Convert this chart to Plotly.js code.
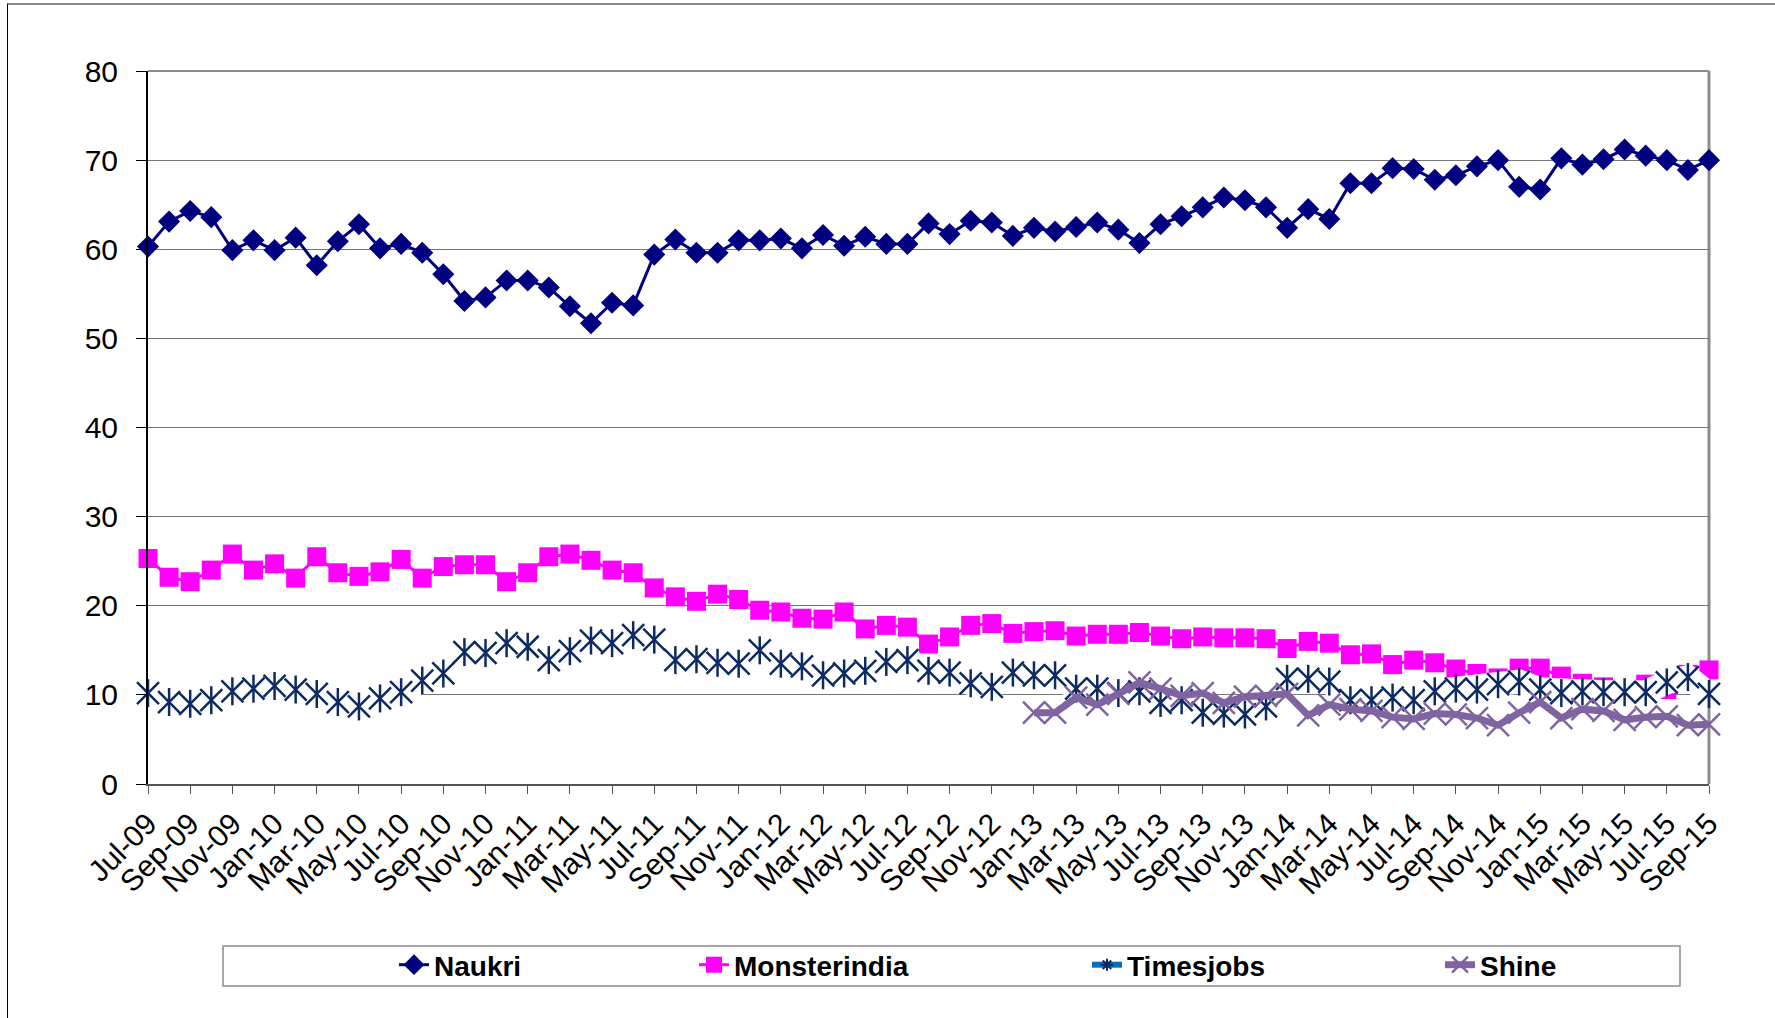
<!DOCTYPE html>
<html>
<head>
<meta charset="utf-8">
<script src="https://cdn.plot.ly/plotly-3.0.1.min.js"></script>
<style>
  html, body { margin: 0; padding: 0; background: #fff; width: 1775px; height: 1018px; overflow: hidden; }
  #frame { position: absolute; left: 7px; top: 3px; width: 2000px; height: 2000px;
           border-left: 1px solid #000; border-top: 2px solid #8a8a8a; }
  #chart { position: absolute; left: 0; top: 0; width: 1775px; height: 1018px; }
</style>
</head>
<body>
<div id="frame"></div>
<div id="chart"></div>
<script>
const months = [
  'Jul-09','Aug-09','Sep-09','Oct-09','Nov-09','Dec-09',
  'Jan-10','Feb-10','Mar-10','Apr-10','May-10','Jun-10','Jul-10','Aug-10','Sep-10','Oct-10','Nov-10','Dec-10',
  'Jan-11','Feb-11','Mar-11','Apr-11','May-11','Jun-11','Jul-11','Aug-11','Sep-11','Oct-11','Nov-11','Dec-11',
  'Jan-12','Feb-12','Mar-12','Apr-12','May-12','Jun-12','Jul-12','Aug-12','Sep-12','Oct-12','Nov-12','Dec-12',
  'Jan-13','Feb-13','Mar-13','Apr-13','May-13','Jun-13','Jul-13','Aug-13','Sep-13','Oct-13','Nov-13','Dec-13',
  'Jan-14','Feb-14','Mar-14','Apr-14','May-14','Jun-14','Jul-14','Aug-14','Sep-14','Oct-14','Nov-14','Dec-14',
  'Jan-15','Feb-15','Mar-15','Apr-15','May-15','Jun-15','Jul-15','Aug-15','Sep-15'
];

const naukri = [
  60.3,63.1,64.3,63.6,59.9,61.0,59.9,61.3,58.2,60.9,
  62.8,60.1,60.6,59.6,57.2,54.2,54.6,56.5,56.5,55.7,
  53.6,51.7,54.0,53.7,59.4,61.1,59.6,59.6,61.0,61.0,
  61.2,60.1,61.6,60.4,61.4,60.6,60.6,62.9,61.7,63.2,
  63.0,61.5,62.4,62.0,62.5,63.0,62.2,60.7,62.8,63.7,
  64.7,65.8,65.5,64.7,62.4,64.5,63.4,67.4,67.4,69.1,
  69.0,67.8,68.3,69.3,70.0,67.0,66.7,70.2,69.5,70.1,
  71.2,70.5,70.0,68.9,70.0
];

const monsterindia = [
  25.3,23.2,22.7,24.0,25.8,24.0,24.7,23.1,25.5,23.7,
  23.3,23.8,25.2,23.1,24.4,24.6,24.6,22.7,23.7,25.5,
  25.8,25.1,24.0,23.7,22.0,21.0,20.5,21.3,20.7,19.5,
  19.3,18.6,18.5,19.3,17.4,17.8,17.6,15.7,16.5,17.8,
  18.0,16.9,17.1,17.2,16.6,16.8,16.8,17.0,16.6,16.3,
  16.5,16.4,16.4,16.3,15.2,16.0,15.8,14.5,14.6,13.4,
  13.9,13.6,12.9,12.4,11.9,13.0,13.0,12.1,11.3,10.9,
  10.5,11.2,10.6,12.3,12.8
];

const timesjobs = [
  10.2,9.2,9.0,9.4,10.4,10.7,11.0,10.6,10.1,9.2,
  8.7,9.6,10.3,11.6,12.4,14.8,14.7,15.8,15.4,13.9,
  14.9,16.1,15.8,16.7,16.2,13.9,14.0,13.6,13.5,15.0,
  13.5,13.2,12.2,12.4,12.7,13.7,13.9,12.7,12.5,11.3,
  10.9,12.5,12.2,12.2,10.7,10.7,10.2,10.4,9.1,9.4,
  8.0,7.9,7.8,8.7,11.8,11.8,11.5,9.4,9.4,9.7,
  9.4,10.4,10.7,10.6,11.2,11.5,10.6,10.2,10.4,10.3,
  10.3,10.3,11.4,12.0,10.1
];

const shineStart = 'Jan-13';
const shine = [
  8.0,8.0,9.7,8.9,10.1,11.4,10.7,9.9,
  10.2,9.1,9.8,9.9,10.1,7.7,8.9,8.4,8.2,7.5,
  7.3,7.9,7.8,7.4,6.6,8.0,9.2,7.4,8.4,8.2,
  7.2,7.5,7.6,6.6,6.7
];
const shineMonths = months.slice(months.indexOf(shineStart));

const yTicks = [0,10,20,30,40,50,60,70,80];
const xTicks = months.filter((m, i) => i % 2 === 0);

const NAVY = '#000080';
const MAGENTA = '#FF00FF';
const TJ_MARK = '#0d2a63';
const TJ_LEG = '#0070C0';
const PURPLE = '#8064A2';
const FONT = 'Liberation Sans, Arial, Helvetica, sans-serif';

const traces = [
  {
    x: months, y: naukri, name: 'Naukri', type: 'scatter', mode: 'lines+markers',
    line: {color: NAVY, width: 3},
    marker: {symbol: 'diamond', size: 17, color: NAVY},
    cliponaxis: false, legend: 'legend'
  },
  {
    x: months, y: monsterindia, name: 'Monsterindia', type: 'scatter', mode: 'lines+markers',
    line: {color: MAGENTA, width: 3},
    marker: {symbol: 'square', size: 19, color: MAGENTA},
    cliponaxis: false, legend: 'legend2'
  },
  {
    x: months, y: timesjobs, name: 'Timesjobs', type: 'scatter', mode: 'lines+markers',
    line: {color: '#ffffff', width: 24},
    marker: {symbol: 'x-thin-open', size: 22, color: TJ_MARK, line: {color: TJ_MARK, width: 2.5}},
    cliponaxis: false, showlegend: false
  },
  {
    x: months, y: timesjobs, name: 'Timesjobs', type: 'scatter', mode: 'markers',
    marker: {symbol: 'line-ns-open', size: 20, color: TJ_MARK, line: {color: TJ_MARK, width: 2.5}},
    cliponaxis: false, showlegend: false
  },
  {
    x: [null], y: [null], name: 'Timesjobs', type: 'scatter', mode: 'lines+markers',
    line: {color: TJ_LEG, width: 6},
    marker: {symbol: 'asterisk-open', size: 10, color: TJ_MARK, line: {color: TJ_MARK, width: 2}},
    legend: 'legend3'
  },
  {
    x: shineMonths, y: shine, name: 'Shine', type: 'scatter', mode: 'lines+markers',
    line: {color: PURPLE, width: 7},
    marker: {symbol: 'x-thin-open', size: 22, color: PURPLE, line: {color: PURPLE, width: 2.5}},
    cliponaxis: false, legend: 'legend4'
  }
];

function leg(px) {
  return {
    xref: 'container', yref: 'container',
    x: px / 1775, y: 1 - 965 / 1018, xanchor: 'left', yanchor: 'middle',
    orientation: 'h', bgcolor: 'rgba(0,0,0,0)', borderwidth: 0,
    font: {family: FONT, size: 28, color: '#000', weight: 'bold'}
  };
}

const layout = {
  width: 1775, height: 1018,
  margin: {l: 148, r: 66, t: 71, b: 234, pad: 0},
  paper_bgcolor: 'rgba(0,0,0,0)',
  plot_bgcolor: '#ffffff',
  font: {family: FONT, color: '#000'},
  showlegend: true,
  legend: leg(394),
  legend2: leg(694),
  legend3: leg(1087),
  legend4: leg(1440),
  xaxis: {
    type: 'category', categoryorder: 'array', categoryarray: months,
    range: [0, months.length - 1],
    tickmode: 'array', tickvals: xTicks, ticktext: xTicks,
    tickangle: -45, tickfont: {family: FONT, size: 30, color: '#000'},
    ticks: 'outside', ticklen: 8, tickwidth: 1, tickcolor: '#555',
    showgrid: false, zeroline: false,
    showline: true, linecolor: '#555', linewidth: 2,
    fixedrange: true
  },
  yaxis: {
    range: [0, 80], tickmode: 'array', tickvals: yTicks, ticktext: yTicks.map(String),
    tickfont: {family: FONT, size: 30, color: '#000'},
    ticks: 'outside', ticklen: 10, tickwidth: 1, tickcolor: '#000',
    ticklabelstandoff: 12,
    showgrid: true, gridcolor: '#777', gridwidth: 1,
    zeroline: false, showline: true, linecolor: '#000', linewidth: 2,
    fixedrange: true
  },
  shapes: [
    {type: 'line', xref: 'paper', yref: 'paper', x0: 0, x1: 1, y0: 1, y1: 1,
     line: {color: '#8c8c8c', width: 2}, layer: 'below'},
    {type: 'line', xref: 'paper', yref: 'paper', x0: 1, x1: 1, y0: 0, y1: 1,
     line: {color: '#8c8c8c', width: 3}, layer: 'below'},
    {type: 'rect', xref: 'paper', yref: 'paper',
     x0: (223 - 148) / 1561, x1: (1680 - 148) / 1561,
     y0: (784 - 986) / 713, y1: (784 - 946) / 713,
     line: {color: '#8c8c8c', width: 1.5}, fillcolor: 'rgba(0,0,0,0)', layer: 'above'}
  ]
};

Plotly.newPlot('chart', traces, layout, {displayModeBar: false, staticPlot: true});
</script>
</body>
</html>
